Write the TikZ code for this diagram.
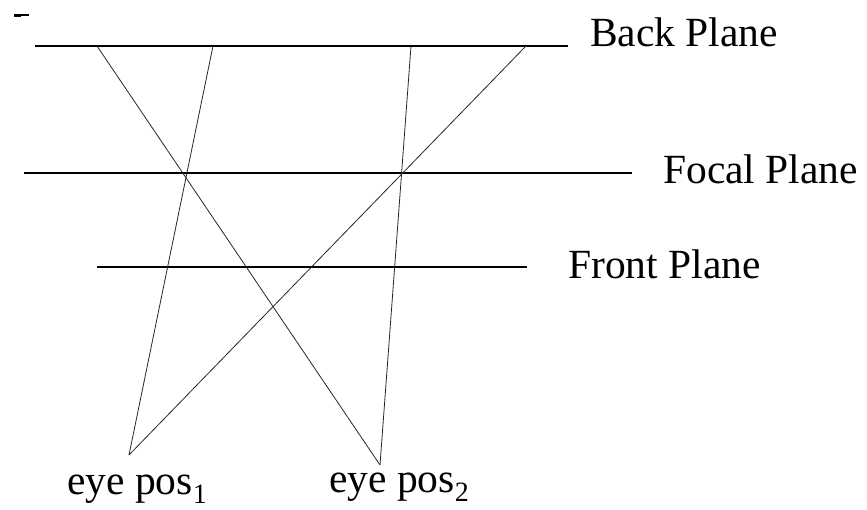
\documentclass[tikz,border=0pt]{standalone}
\usepackage{fontspec}
\setmainfont{Liberation Serif}
\begin{document}
\begin{tikzpicture}[x=1pt,y=-1pt,
  plane/.style={line width=1.1pt, black},
  ray/.style={line width=0.8pt, black!85},
  lbl/.style={anchor=base west, inner sep=0pt, font=\fontsize{41.5}{48}\selectfont}]
\newcommand{\subdig}[1]{\raisebox{-0.24em}{\fontsize{28}{30}\selectfont #1}}
\useasboundingbox (0,0) rectangle (867,509);
% small mark
\fill (14,13.5) rectangle (21,17);
\fill (21,14) rectangle (29,16);
% plane endpoints
\coordinate (bl) at (35,46);   \coordinate (br) at (568,46);
\coordinate (fl) at (24,173);  \coordinate (fr) at (632,173);
\coordinate (nl) at (97,267);  \coordinate (nr) at (527,267);
% ray ends on back plane
\coordinate (b1) at (213,46);
\coordinate (b2) at (526,46);
\coordinate (b3) at (97,46);
\coordinate (b4) at (411,46);
% eyes
\coordinate (e1) at (129,455);
\coordinate (e2) at (380,465);
% planes
\draw[plane] (bl) -- (br);
\draw[plane] (fl) -- (fr);
\draw[plane] (nl) -- (nr);
% rays
\draw[ray] (e1) -- (b1);
\draw[ray] (e1) -- (b2);
\draw[ray] (e2) -- (b3);
\draw[ray] (e2) -- (b4);
% labels
\node[lbl] (back) at (590,46.5) {Back Plane};
\node[lbl] (focal) at (663,183) {Focal Plane};
\node[lbl] (front) at (568,278) {Front Plane};
\node[lbl] (eye1) at (67,494) {eye pos\subdig{1}};
\node[lbl] (eye2) at (329,492) {eye pos\subdig{2}};
\end{tikzpicture}
\end{document}
